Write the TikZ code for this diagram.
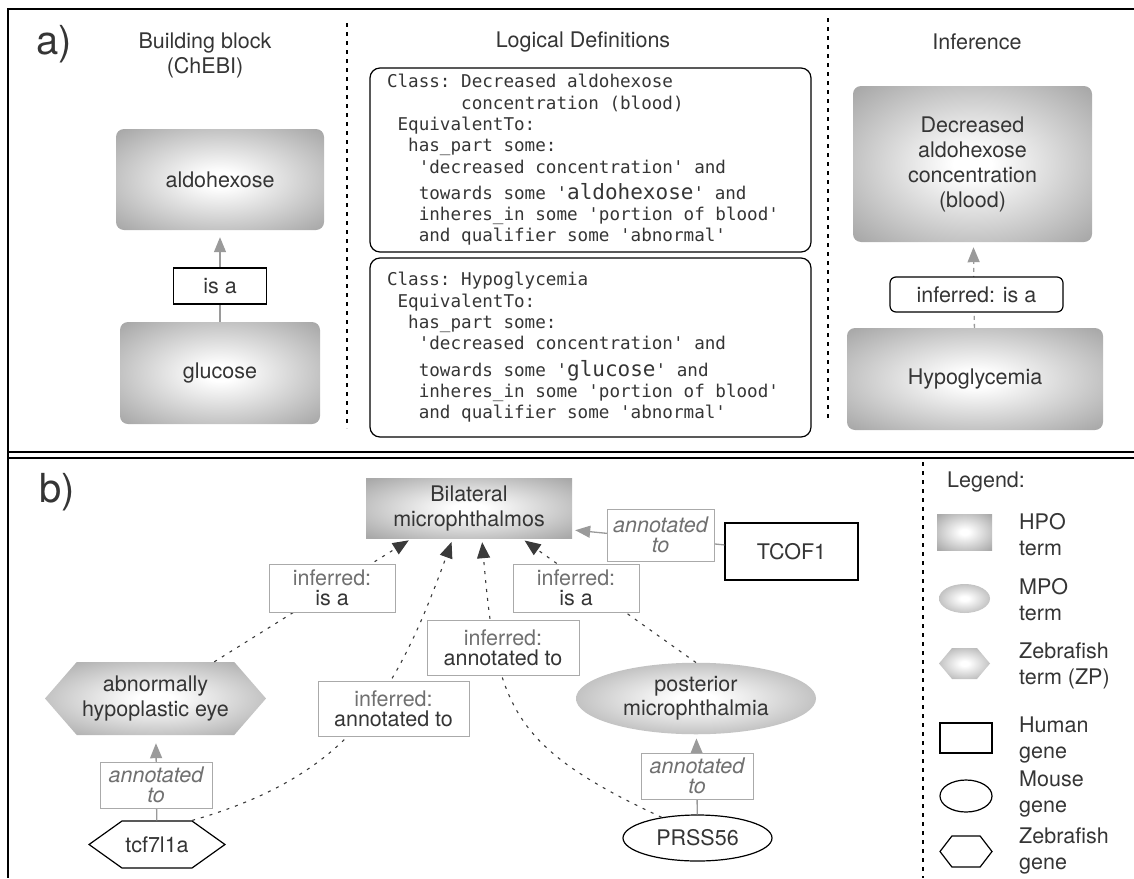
\documentclass[tikz,border=0pt]{standalone}
\usepackage{fontspec}
\setmainfont{TeX Gyre Heros}
\setmonofont{DejaVu Sans Mono}
\usetikzlibrary{arrows.meta,shapes.geometric,shapes.symbols}
\definecolor{txt}{HTML}{353535}
\definecolor{termgray}{HTML}{A9A9A9}
\definecolor{linegray}{HTML}{9A9A9A}
\definecolor{boxgray}{HTML}{AAAAAA}
\definecolor{infgray}{HTML}{707070}
\definecolor{darkline}{HTML}{3A3A3A}
\pgfdeclareradialshading{termshade}{\pgfpoint{0bp}{0bp}}{color(0bp)=(white); color(4bp)=(white); color(34bp)=(termgray); color(50bp)=(termgray)}
\newcommand\ind[1]{\hspace*{#1\fontcharwd\font`\M}}
\newcommand\monosp{\spaceskip=\fontcharwd\font`\M\relax\xspaceskip=\spaceskip}
\begin{document}
\begin{tikzpicture}[x=1pt,y=1pt,
  every node/.style={text=txt,font=\fontsize{21.5}{25}\selectfont},
  big/.style={font=\fontsize{40}{40}\selectfont},
  term/.style={shading=termshade,rounded corners=8pt,align=center},
  hpo/.style={shading=termshade,align=center},
  hexterm/.style={signal,signal to=west and east,shading=termshade,align=center},
  hexgene/.style={signal,signal to=west and east,draw=black,line width=1.2,align=center},
  gene/.style={draw=black,line width=1.2,align=center},
  defbox/.style={draw=black,line width=1.2,rounded corners=10pt,text width=407,inner xsep=17,align=left,font=\fontsize{17.6}{21.3}\selectfont\ttfamily},
  lbl/.style={draw=boxgray,fill=white,line width=1,align=center,inner sep=1,font=\fontsize{21.5}{20}\selectfont},
  annlbl/.style={lbl,text=infgray,font=\fontsize{21.5}{20}\selectfont\itshape},
  legtxt/.style={anchor=west,align=left,inner sep=0,font=\fontsize{21.5}{26}\selectfont},
  sep/.style={line width=1.2,dash pattern=on 4pt off 5pt},
  isa/.style={draw=linegray,line width=1.3,-{Triangle[length=15pt,width=12pt]}},
  infisa/.style={isa,dash pattern=on 4pt off 4pt},
  infarrow/.style={draw=darkline,line width=1.1,dash pattern=on 3pt off 6pt,-{Triangle[length=16pt,width=13pt,fill=darkline]},shorten >=4pt}]
\useasboundingbox (0,0) rectangle (1134,-878);
\draw[line width=1.5] (1134,-9) -- (8,-9) -- (8,-878);
\draw[line width=1.5] (8,-452) -- (1134,-452);
\draw[line width=1.5] (8,-458) -- (1134,-458);
\draw[sep] (347,-23) -- (347,-428);
\draw[sep] (828,-18) -- (828,-420);
\draw[sep] (923,-462) -- (923,-878);

\node[big] (la) at (54,-44) {a)};
\node[align=center] (headA) at (205,-55) {Building block\\(ChEBI)};
\node (headB) at (583,-42) {Logical Definitions};
\node (headC) at (977,-42) {Inference};

\node[term,minimum width=208,minimum height=101] (aldo) at (220,-179.5) {aldohexose};
\node[term,minimum width=200,minimum height=102] (gluc) at (220,-373) {glucose};
\draw[isa,shorten >=7pt] (gluc) -- (aldo);
\node[draw=black,fill=white,line width=1.2,minimum width=93,minimum height=36] (isab) at (220,-286) {is a};

\node[defbox,minimum height=184] (defA) at (590.5,-160) {\monosp Class: Decreased aldohexose\\
\ind{7}concentration (blood)\\
\ind{1}EquivalentTo:\\
\ind{2}has\_part some:\\
\ind{3}'decreased concentration' and\\[5pt]
\ind{3}towards some '{\fontsize{21}{21}\selectfont aldohexose}' and\\
\ind{3}inheres\_in some 'portion of blood'\\
\ind{3}and qualifier some 'abnormal'};
\node[defbox,minimum height=179] (defB) at (590.5,-347.5) {\monosp Class: Hypoglycemia\\
\ind{1}EquivalentTo:\\
\ind{2}has\_part some:\\
\ind{3}'decreased concentration' and\\[5pt]
\ind{3}towards some '{\fontsize{21}{21}\selectfont glucose}' and\\
\ind{3}inheres\_in some 'portion of blood'\\
\ind{3}and qualifier some 'abnormal'};

\node[term,minimum width=239,minimum height=156] (decr) at (972.5,-164) {Decreased\\aldohexose\\concentration\\(blood)};
\node[term,minimum width=256,minimum height=102] (hypo) at (975,-379) {Hypoglycemia};
\draw[infisa,shorten >=5pt] (hypo) -- (decr);
\node[draw=black,fill=white,line width=1.2,rounded corners=6pt,minimum width=173,minimum height=35] (infab) at (976.5,-294.5) {inferred: is a};

\node[big] (lb) at (57,-492) {b)};
\node[hpo,minimum width=206,minimum height=60] (bil) at (469,-508) {Bilateral\\microphthalmos};
\node[gene,minimum width=133,minimum height=57] (tcof) at (791.5,-551.5) {TCOF1};
\node[hexterm,signal pointer angle=98,minimum width=221,minimum height=73] (eye) at (155.5,-698.5) {abnormally\\hypoplastic eye};
\node[ellipse,shading=termshade,align=center,minimum width=240,minimum height=55,font=\fontsize{21.5}{24}\selectfont] (post) at (696,-698.5) {posterior\\microphthalmia};
\node[hexgene,signal pointer angle=71,minimum width=132,minimum height=47] (tcf) at (157,-844.5) {tcf7l1a};
\node[ellipse,gene,minimum width=149,minimum height=46] (prss) at (697.5,-838) {PRSS56};

\draw[infarrow] (eye) -- (bil.208);
\draw[infarrow] (tcf.north east) to[out=16,in=250,looseness=1.1] (bil.242);
\draw[infarrow] (prss.150) to[out=155,in=275,looseness=1.3] (bil.293);
\draw[infarrow] (post.north) -- (bil.330);
\draw[isa,shorten >=3pt] (tcof) -- (bil.348);
\draw[isa,shorten >=8pt] (tcf) -- (eye);
\draw[isa,shorten >=4pt] (prss) -- (post);

\node[lbl,minimum width=126,minimum height=48] (lisa1) at (332,-588) {\textcolor{infgray}{inferred:}\\is a};
\node[lbl,minimum width=151,minimum height=55] (lann1) at (393.5,-708.5) {\textcolor{infgray}{inferred:}\\annotated to};
\node[lbl,minimum width=152,minimum height=55] (lann2) at (503,-647.5) {\textcolor{infgray}{inferred:}\\annotated to};
\node[lbl,minimum width=126,minimum height=48] (lisa2) at (576,-588) {\textcolor{infgray}{inferred:}\\is a};
\node[annlbl,minimum width=107,minimum height=52] (ltcof) at (660.5,-535) {annotated\\to};
\node[annlbl,minimum width=112,minimum height=46] (ltcf) at (156,-785) {annotated\\to};
\node[annlbl,minimum width=112,minimum height=46] (lprss) at (697,-776) {annotated\\to};

\node[anchor=west,inner sep=0] (leg) at (947,-482) {Legend:};
\node[hpo,minimum width=55,minimum height=36] (khpo) at (964.5,-532) {};
\node[legtxt] (thpo) at (1019,-534.5) {HPO\\term};
\node[ellipse,shading=termshade,minimum width=51,minimum height=29] (kmpo) at (964.5,-598.5) {};
\node[legtxt] (tmpo) at (1019,-600) {MPO\\term};
\node[hexterm,signal pointer angle=100,minimum width=51,minimum height=31] (kzp) at (964.5,-663.5) {};
\node[legtxt] (tzp) at (1019,-666) {Zebrafish\\term (ZP)};
\node[gene,minimum width=52,minimum height=30] (khum) at (966,-738) {};
\node[legtxt] (thum) at (1019,-739.5) {Human\\gene};
\node[ellipse,gene,minimum width=52,minimum height=32] (kmou) at (966,-796) {};
\node[legtxt] (tmou) at (1019,-793.5) {Mouse\\gene};
\node[hexgene,signal pointer angle=105,minimum width=52,minimum height=31] (kzg) at (966,-851.5) {};
\node[legtxt] (tzg) at (1019,-850.5) {Zebrafish\\gene};
\end{tikzpicture}
\end{document}
